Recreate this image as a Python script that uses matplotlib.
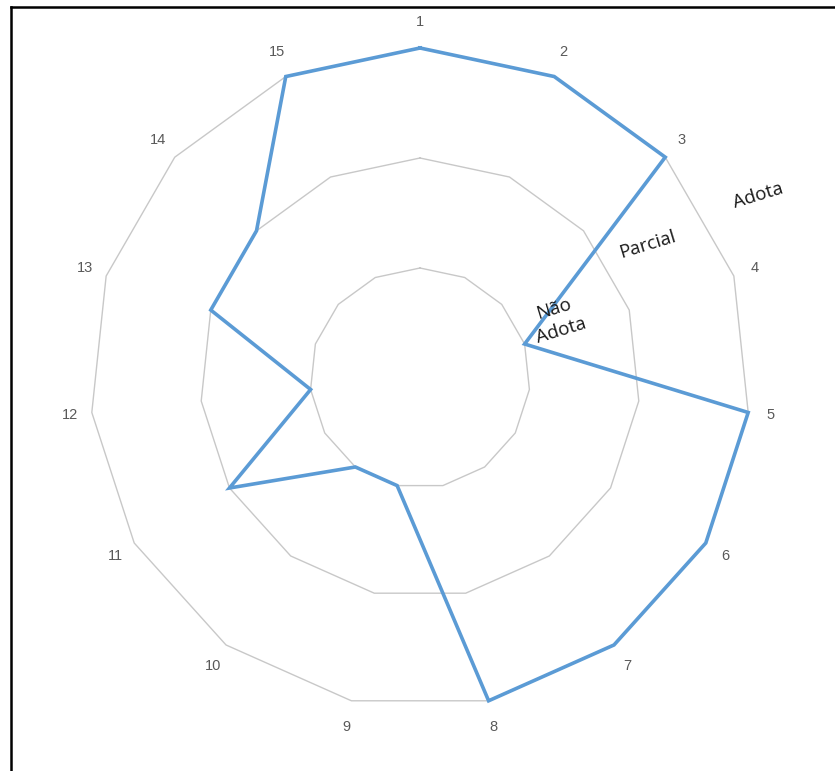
import matplotlib.pyplot as plt
import numpy as np
from matplotlib.lines import Line2D

categories = [str(i) for i in range(1, 16)]
values = [3, 3, 3, 1, 3, 3, 3, 3, 1, 1, 2, 1, 2, 2, 3]
ring_levels = [1, 2, 3]
level_names = ["Não\nAdota", "Parcial", "Adota"]

W, H, DPI = 835, 771, 100
CX, CY, UNIT = 420, 378, 110  # centre and pixels per unit

n = len(categories)
angles = np.arange(n) * 2 * np.pi / n  # clockwise from the top


def to_xy(r, ang):
    return r * np.sin(ang), r * np.cos(ang)


fig = plt.figure(figsize=(W / DPI, H / DPI), dpi=DPI)
ax = fig.add_axes([0, 0, 1, 1])
ax.set_xlim(-CX / UNIT, (W - CX) / UNIT)
ax.set_ylim(-(H - CY) / UNIT, CY / UNIT)
ax.axis("off")

closed = np.append(angles, angles[0])
for level in ring_levels:
    x, y = to_xy(level, closed)
    ax.plot(x, y, color="#c8c8c8", linewidth=1.0, zorder=1)

vals = np.append(values, values[0])
x, y = to_xy(vals, closed)
ax.plot(x, y, color="#5b9bd5", linewidth=2.6, solid_joinstyle="miter", zorder=3)

for cat, ang in zip(categories, angles):
    lx, ly = to_xy(3.2, ang)
    ly += 0.04 * np.cos(ang)
    ax.text(lx, ly, cat, ha="center", va="center", fontsize=10.5, color="#595959",
            family="Liberation Sans")

label_pos = [(1.25, 0.53), (2.07, 1.21), (3.07, 1.66)]
for name, (tx, ty) in zip(level_names, label_pos):
    ax.text(tx, ty, name, ha="center", va="center", fontsize=13.5, color="#1a1a1a",
            rotation=17, family="Open Sans", linespacing=1.35)

# frame (left and top edges of the cropped screenshot)
fig.add_artist(Line2D([11 / W, 11 / W], [0, 1 - 7 / H], color="black", linewidth=1.8))
fig.add_artist(Line2D([11 / W, 1], [1 - 7 / H, 1 - 7 / H], color="black", linewidth=1.8))

fig.savefig("out.png", dpi=DPI)
